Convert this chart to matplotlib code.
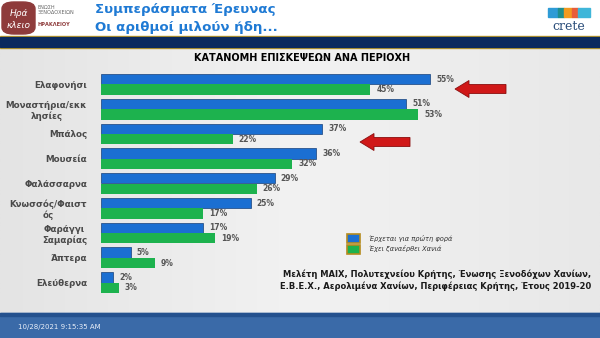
import matplotlib
matplotlib.use("Agg")
import matplotlib.pyplot as plt
import numpy as np
from matplotlib.patches import Rectangle, FancyArrow, FancyBboxPatch

categories = ["Ελαφονήσι", "Μοναστήρια/εκκ\nλησίες", "Μπάλος", "Μουσεία", "Φαλάσσαρνα",
              "Κνωσσός/Φαιστ\nός", "Φαράγγι\nΣαμαρίας", "Άπτερα", "Ελεύθερνα"]
first_time = [55, 51, 37, 36, 29, 25, 17, 5, 2]
returning = [45, 53, 22, 32, 26, 17, 19, 9, 3]
series_names = ["Έρχεται για πρώτη φορά", "Έχει ξαναέρθει Χανιά"]
title = "ΚΑΤΑΝΟΜΗ ΕΠΙΣΚΕΨΕΩΝ ΑΝΑ ΠΕΡΙΟΧΗ"
source_lines = ["Μελέτη ΜΑΙΧ, Πολυτεχνείου Κρήτης, Ένωσης Ξενοδόχων Χανίων,",
                "Ε.Β.Ε.Χ., Αερολιμένα Χανίων, Περιφέρειας Κρήτης, Έτους 2019-20"]

W, H = 600, 338
BLUE = "#1B6FD2"
GREEN = "#1DB24E"
TXT = "#4A4A4A"

fig = plt.figure(figsize=(6, 3.38), dpi=100)
fig.patch.set_facecolor("#ECECEC")

def fx(px): return px / W
def fy(py): return 1 - py / H

# background gradient
bg = fig.add_axes([0, 0, 1, 1], zorder=-10)
grad = np.linspace(0, 1, 256).reshape(1, -1)
bg.imshow(np.vstack([grad, grad]), aspect="auto", cmap=matplotlib.colors.LinearSegmentedColormap.from_list("g", ["#E4E4E4", "#F2F2F2", "#E8E8E8"]), extent=[0, 1, 0, 1])
bg.set_xlim(0, 1); bg.set_ylim(0, 1); bg.axis("off")

# header white
fig.patches.append(Rectangle((0, fy(37)), 1, 37 / H, transform=fig.transFigure, color="white", zorder=-5))
fig.patches.append(Rectangle((0, fy(48)), 1, 12 / H, transform=fig.transFigure, color="#C9A227", zorder=-4))
fig.patches.append(Rectangle((0, fy(46.5)), 1, 9 / H, transform=fig.transFigure, color="#0B2A5E", zorder=-3))
# bottom band
fig.patches.append(Rectangle((0, 0), 1, 25 / H, transform=fig.transFigure, color="#3A6AA8", zorder=-5))
fig.patches.append(Rectangle((0, fy(316)), 1, 3 / H, transform=fig.transFigure, color="#24518E", zorder=-4))
fig.text(fx(18), fy(327), "10/28/2021 9:15:35 AM", fontsize=5, color="#E8EEF8", va="center", ha="left")

# left logo
fig.patches.append(FancyBboxPatch((fx(2), fy(34)), 33 / W, 32 / H, boxstyle="round,pad=0,rounding_size=0.02",
                                  transform=fig.transFigure, color="#8E3B3B", zorder=-2))
fig.text(fx(18.5), fy(13), "Ηρά", fontsize=6.5, color="white", ha="center", va="center", style="italic")
fig.text(fx(18.5), fy(25), "κλειο", fontsize=6.5, color="white", ha="center", va="center", style="italic")
fig.text(fx(38), fy(10), "ΕΝΩΣΗ\nΞΕΝΟΔΟΧΕΙΩΝ", fontsize=3.6, color="#666666", ha="left", va="center", linespacing=1.1)
fig.text(fx(38), fy(24), "ΗΡΑΚΛΕΙΟΥ", fontsize=3.6, color="#8E3B3B", ha="left", va="center", fontweight="bold")
# header titles
fig.text(fx(95), fy(10), "Συμπεράσματα Έρευνας", fontsize=9.6, color="#1F7AD4", fontweight="bold", ha="left", va="center")
fig.text(fx(95), fy(27), "Οι αριθμοί μιλούν ήδη...", fontsize=9.6, color="#1F7AD4", fontweight="bold", ha="left", va="center")
# crete logo
for (x0, w, c) in [(548, 10, "#2E9BD6"), (558, 6, "#1E8E8E"), (564, 8, "#F29A1F"), (572, 6, "#E85C3A"), (578, 12, "#3FB6D9")]:
    fig.patches.append(Rectangle((fx(x0), fy(17)), w / W, 9 / H, transform=fig.transFigure, color=c, zorder=-2))
fig.text(fx(569), fy(26), "crete", fontsize=9, color="#2A4D7A", ha="center", va="center", family="DejaVu Serif")

# chart
ax = fig.add_axes([fx(101), fy(295), (460 - 101) / W, (295 - 72) / H])
ax.set_facecolor("none")
y = np.arange(len(categories))
bh = 0.42
ax.barh(y - bh / 2, first_time, height=bh, color=BLUE, edgecolor="#16407A", linewidth=0.5, label=series_names[0])
ax.barh(y + bh / 2, returning, height=bh, color=GREEN, edgecolor="none", label=series_names[1])
for i in range(len(categories)):
    ax.text(first_time[i] + 1.0, y[i] - bh / 2, f"{first_time[i]}%", fontsize=5.5, fontweight="bold", color="#555555", va="center")
    ax.text(returning[i] + 1.0, y[i] + bh / 2, f"{returning[i]}%", fontsize=5.5, fontweight="bold", color="#555555", va="center")
ax.set_xlim(0, 60)
ax.set_ylim(len(categories) - 0.5, -0.5)
ax.set_yticks(y)
ax.set_yticklabels(categories, fontsize=6.3, color=TXT, fontweight="bold", linespacing=1.2)
for lbl in ax.get_yticklabels():
    lbl.set_multialignment("center")
ax.tick_params(axis="y", length=0, pad=10)
ax.set_xticks([])
for s in ax.spines.values():
    s.set_visible(False)

fig.text(fx(302), fy(58), title, fontsize=7, fontweight="bold", color="black", ha="center", va="center")

# legend
for k, (c, name) in enumerate(zip([BLUE, GREEN], series_names)):
    yy = 238 + 11 * k
    fig.patches.append(Rectangle((fx(347), fy(yy + 4.5)), 13 / W, 9 / H, transform=fig.transFigure,
                                 facecolor=c, edgecolor="#B58B1E", linewidth=1.2))
    fig.text(fx(369), fy(yy), name, fontsize=4.8, style="italic", color="#333333", ha="left", va="center")

# source
fig.text(fx(591), fy(274), source_lines[0], fontsize=6.0, fontweight="bold", color="#1A1A1A", ha="right", va="center")
fig.text(fx(591), fy(286), source_lines[1], fontsize=6.0, fontweight="bold", color="#1A1A1A", ha="right", va="center")

# red arrows
for (x0, x1, yy) in [(506, 455, 89), (410, 360, 142)]:
    fig.patches.append(FancyArrow(fx(x0), fy(yy), fx(x1) - fx(x0), 0, width=9 / H,
                                  head_width=17 / H, head_length=14 / W, length_includes_head=True,
                                  transform=fig.transFigure, facecolor="#D01818", edgecolor="#8A0E0E", linewidth=0.6))

fig.savefig("out.png", dpi=100, facecolor=fig.get_facecolor())
